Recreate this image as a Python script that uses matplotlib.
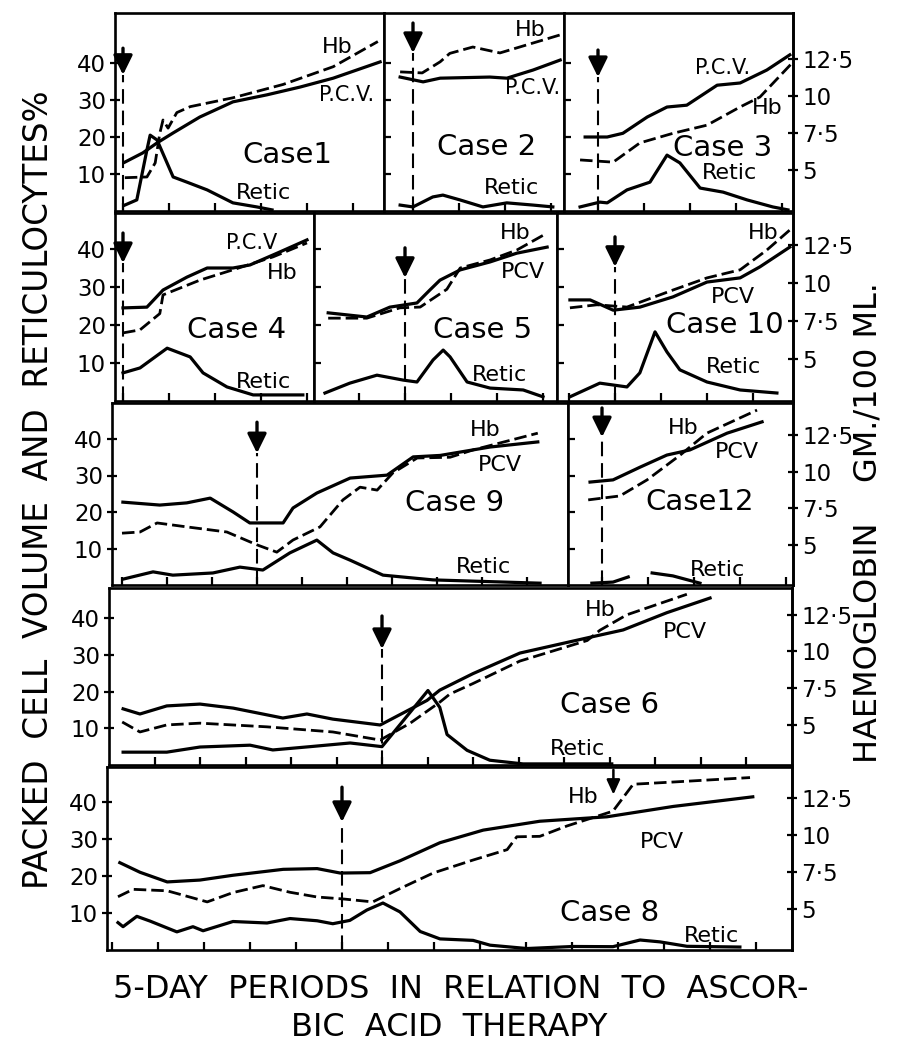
import matplotlib
matplotlib.use("Agg")
import math
import matplotlib.pyplot as plt
import numpy as np

plt.rcParams["font.family"] = ["DejaVu Sans"]

W, H = 901, 1044
nan = float("nan")

# x = 5-day periods from the start of ascorbic acid therapy (arrow = 0)
# PCV and retic in %, Hb in gm./100 ml.
CASE1_PCV = [(0.04, 13.2), (0.43, 15.7), (0.74, 18.4), (1.09, 21.1), (1.67, 25.4), (2.39, 29.5),
             (3.13, 31.4), (3.85, 33.5), (4.57, 35.9), (5.59, 40.3)]
CASE1_HB = [(0.04, 4.5), (0.52, 4.55), (0.7, 5.5), (0.8, 7.5), (0.87, 8.4), (0.98, 7.85), (1.17, 8.9),
            (1.46, 9.3), (2.39, 9.9), (3.48, 10.8), (4.57, 12.0), (5.54, 13.7)]
CASE1_RETIC = [(0.04, 1.6), (0.3, 3.0), (0.52, 16.5), (0.59, 20.5), (0.74, 19.2), (1.09, 9.2), (1.39, 7.8),
               (1.83, 5.7), (2.39, 2.2), (2.91, 1.1), (3.24, 0.3)]

CASE2_PCV = [(-0.28, 36.2), (0.22, 34.9), (0.59, 35.9), (1.67, 36.2), (2.04, 35.9), (2.61, 38.1), (3.2, 40.8)]
CASE2_HB = [(-0.28, 11.65), (0.2, 11.58), (0.59, 12.33), (0.8, 12.9), (1.3, 13.33), (1.89, 12.93),
            (2.48, 13.48), (3.2, 14.15)]
CASE2_RETIC = [(-0.28, 1.6), (0.0, 1.1), (0.43, 3.8), (0.65, 4.3), (1.02, 3.0), (1.52, 1.1), (2.04, 2.2),
               (2.61, 1.6), (3.04, 1.1)]

CASE3_PCV = [(-0.28, 20.0), (0.2, 20.0), (0.54, 21.0), (1.07, 25.4), (1.5, 28.1), (1.93, 28.6), (2.59, 34.0),
             (3.09, 34.6), (3.67, 38.1), (4.17, 42.2)]
CASE3_HB = [(-0.39, 5.7), (0.33, 5.55), (0.91, 6.85), (1.63, 7.5), (2.37, 8.05), (3.09, 9.28), (3.52, 9.95),
            (4.22, 12.25)]
CASE3_RETIC = [(-0.39, 1.1), (0.04, 2.4), (0.2, 2.2), (0.63, 5.7), (1.13, 7.8), (1.5, 15.1), (1.78, 13.0),
               (2.22, 6.2), (2.72, 5.1), (3.24, 3.0), (3.8, 1.1), (4.13, 0.3)]

CASE4_PCV = [(0.0, 24.5), (0.52, 24.7), (0.87, 29.2), (1.39, 32.6), (1.83, 35.0), (2.39, 35.0), (2.76, 35.8),
             (3.35, 38.9), (4.0, 42.4)]
CASE4_HB = [(0.0, 6.73), (0.37, 6.93), (0.8, 8.0), (0.87, 9.23), (1.67, 10.2), (2.39, 10.88), (3.26, 11.73),
            (4.0, 12.65)]
CASE4_RETIC = [(0.0, 7.4), (0.37, 8.7), (0.96, 13.9), (1.46, 11.6), (1.74, 7.4), (2.26, 3.7), (2.83, 1.6),
               (3.91, 1.6)]

CASE5_PCV = [(-1.67, 23.2), (-0.83, 22.1), (-0.33, 24.7), (0.26, 25.8), (0.54, 29.2), (0.76, 31.8),
             (1.2, 34.5), (1.85, 36.6), (2.43, 38.9), (3.09, 40.5)]
CASE5_HB = [(-1.67, 7.7), (-0.83, 7.7), (-0.11, 8.38), (0.33, 8.43), (0.91, 9.6), (1.2, 11.0), (1.85, 11.53),
            (2.43, 12.18), (3.09, 13.3)]
CASE5_RETIC = [(-1.74, 2.1), (-1.2, 4.7), (-0.61, 6.8), (-0.04, 5.5), (0.26, 5.0), (0.61, 10.8), (0.83, 13.4),
               (0.98, 11.6), (1.35, 5.0), (1.85, 3.4), (2.57, 2.9), (3.0, 1.1)]

CASE10_PCV = [(-0.98, 26.6), (-0.54, 26.6), (-0.04, 23.9), (0.54, 24.7), (1.26, 27.4), (2.0, 31.3),
              (2.72, 32.4), (3.15, 35.3), (3.8, 40.5)]
CASE10_HB = [(-0.98, 8.38), (-0.39, 8.58), (0.26, 8.43), (1.26, 9.55), (2.0, 10.35), (2.72, 10.88),
             (3.3, 12.18), (3.8, 13.5)]
CASE10_RETIC = [(-0.98, 1.1), (-0.33, 4.7), (0.26, 3.7), (0.54, 7.4), (0.87, 18.2), (1.13, 12.9), (1.41, 8.2),
                (2.0, 5.0), (2.72, 2.9), (3.52, 2.1)]

CASE9_PCV = [(-2.98, 22.7), (-2.16, 21.9), (-1.56, 22.5), (-1.04, 23.8), (-0.53, 20.0), (-0.16, 17.0),
             (0.58, 17.0), (0.8, 21.1), (1.33, 25.2), (2.07, 29.3), (2.89, 30.1), (3.47, 35.1), (4.07, 35.5),
             (5.18, 37.8), (6.24, 39.2)]
CASE9_HB = [(-3.0, 5.8), (-2.6, 5.88), (-2.22, 6.5), (-1.56, 6.23), (-0.67, 5.88), (0.0, 5.0), (0.44, 4.5),
            (0.8, 5.33), (1.4, 6.23), (1.91, 8.08), (2.29, 8.95), (2.67, 8.75), (3.02, 9.93), (3.56, 10.95),
            (4.29, 11.0), (4.8, 11.5), (6.24, 12.65)]
CASE9_RETIC = [(-2.98, 1.6), (-2.31, 3.6), (-1.87, 2.7), (-0.98, 3.3), (-0.38, 4.9), (0.13, 4.1), (0.73, 8.8),
               (1.33, 12.3), (1.69, 8.8), (2.07, 6.8), (2.8, 2.7), (3.91, 1.4), (6.29, 0.5)]

CASE12_PCV = [(-0.26, 28.2), (0.24, 28.8), (0.83, 32.3), (1.41, 35.6), (1.91, 37.0), (2.72, 41.6), (3.48, 44.7)]
CASE12_HB = [(-0.3, 8.08), (0.39, 8.35), (0.98, 9.45), (1.7, 11.15), (2.28, 12.65), (3.37, 14.23)]
CASE12_RETIC = [(-0.22, 0.5), (0.24, 0.8), (0.57, 2.2), (nan, nan), (1.09, 3.3), (1.54, 2.5), (2.13, 0.5)]

CASE6_PCV = [(-5.69, 15.3), (-5.32, 13.9), (-4.73, 16.1), (-4.0, 16.6), (-3.27, 15.5), (-2.18, 12.8),
             (-1.65, 13.9), (-1.08, 12.5), (-0.04, 10.9), (0.99, 17.6), (1.27, 20.4), (2.0, 24.9), (3.03, 30.5),
             (4.57, 34.8), (5.3, 36.8), (6.26, 41.5), (7.21, 45.5)]
CASE6_HB = [(-5.71, 5.18), (-5.32, 4.5), (-4.73, 4.98), (-4.0, 5.1), (-2.53, 4.85), (-1.08, 4.5), (-0.04, 3.95),
            (0.62, 5.1), (1.27, 6.53), (1.49, 7.08), (2.0, 7.8), (3.03, 9.33), (4.51, 10.73), (4.79, 11.43),
            (5.38, 12.48), (6.7, 13.88)]
CASE6_RETIC = [(-5.69, 3.5), (-4.73, 3.5), (-4.0, 4.9), (-2.9, 5.4), (-2.4, 4.1), (-1.58, 5.0), (-0.7, 6.0),
               (0.0, 5.0), (1.01, 20.3), (1.27, 15.7), (1.43, 8.3), (1.87, 4.0), (2.37, 1.3), (3.1, 0.3),
               (5.05, 0.3)]

CASE8_PCV = [(-4.83, 23.6), (-4.39, 21.0), (-3.8, 18.4), (-3.09, 18.9), (-2.37, 20.2), (-1.28, 21.8),
             (-0.54, 22.0), (-0.04, 20.8), (0.61, 20.9), (1.26, 24.1), (2.13, 29.0), (3.07, 32.4), (4.3, 34.8),
             (5.76, 36.0), (7.2, 38.8), (8.93, 41.4)]
CASE8_HB = [(-4.87, 5.85), (-4.54, 6.35), (-3.8, 6.25), (-2.93, 5.5), (-2.37, 6.13), (-1.72, 6.6), (-1.13, 6.15),
            (-0.54, 5.83), (0.02, 5.7), (0.67, 5.5), (1.26, 6.4), (1.98, 7.45), (2.85, 8.33), (3.59, 9.03),
            (3.8, 9.9), (4.3, 9.93), (4.89, 10.63), (5.89, 11.63), (6.33, 13.45), (7.2, 13.6), (8.87, 13.9)]
CASE8_RETIC = [(-4.87, 7.4), (-4.76, 6.3), (-4.46, 9.1), (-4.17, 7.8), (-3.59, 4.9), (-3.24, 6.3), (-3.02, 5.2),
               (-2.37, 7.7), (-1.63, 7.3), (-1.13, 8.5), (-0.54, 7.9), (-0.2, 7.1), (0.17, 8.0), (0.54, 10.8),
               (0.89, 12.7), (1.26, 10.3), (1.7, 5.0), (2.13, 3.0), (2.85, 2.6), (3.22, 1.3), (4.02, 0.4),
               (5.02, 0.95), (5.89, 0.9), (6.48, 2.7), (6.91, 2.2), (7.5, 1.0), (8.65, 0.8)]

LEFT_TICKS = [10, 20, 30, 40]
HB_TICKS = [5, 7.5, 10, 12.5]
HB_TICK_LABELS = ["5", "7·5", "10", "12·5"]


def hb_to_left(g):
    return 4 * np.asarray(g, dtype=float) - 9


def left_to_hb(y):
    return (np.asarray(y, dtype=float) + 9) / 4


# row layout in pixels: (top, zero line, px per unit)
ROWS = {1: (13, 211, 3.7), 2: (213, 401, 3.8), 3: (403, 585, 3.65), 4: (588, 765, 3.67), 5: (767, 950, 3.7)}

fig = plt.figure(figsize=(W / 100, H / 100), dpi=100)
fig.patch.set_facecolor("white")


def panel(x0, x1, row, arrow_px, ppp, arrow, pcv, hb, retic, first=False, last=False):
    top, zero, ppu = ROWS[row]
    ax = fig.add_axes([x0 / W, 1 - zero / H, (x1 - x0) / W, (zero - top) / H])
    lo, hi = (x0 - arrow_px) / ppp, (x1 - arrow_px) / ppp
    ax.set_xlim(lo, hi)
    ax.set_ylim(0, (zero - top) / ppu)
    ax.set_xticks(np.arange(math.ceil(lo + 0.05), math.floor(hi - 0.05) + 1))
    ax.tick_params(axis="x", direction="in", length=6, width=1.6, labelbottom=False)
    ax.set_yticks(LEFT_TICKS)
    if first:
        ax.tick_params(axis="y", direction="inout", length=7, width=1.6, labelsize=16.5, pad=3)
    else:
        ax.tick_params(axis="y", direction="in", length=5, width=1.6, labelleft=False)
    for s in ax.spines.values():
        s.set_linewidth(1.9)
    if last:
        sec = ax.secondary_yaxis("right", functions=(left_to_hb, hb_to_left))
        sec.set_yticks(HB_TICKS)
        sec.set_yticklabels(HB_TICK_LABELS)
        sec.tick_params(direction="inout", length=7, width=1.6, labelsize=16.5, pad=3)
        sec.spines["right"].set_linewidth(1.9)

    x, y = zip(*pcv)
    ax.plot(x, y, color="k", lw=2.3, solid_joinstyle="round", clip_on=False)
    x, g = zip(*hb)
    ax.plot(x, hb_to_left(g), color="k", lw=2.0, ls=(0, (4.5, 1.8)), clip_on=False)
    x, y = zip(*retic)
    ax.plot(x, y, color="k", lw=2.3, solid_joinstyle="round", clip_on=False)

    a_top, a_tip = arrow
    ax.annotate("", xy=(0, a_tip), xytext=(0, a_top),
                arrowprops=dict(arrowstyle="-|>,head_length=0.65,head_width=0.32", color="k",
                                lw=2.4, mutation_scale=18, shrinkA=0, shrinkB=0))
    ax.plot([0, 0], [0, a_tip], color="k", lw=1.5, ls=(0, (7, 3.3)))
    return ax


panel(115, 384, 1, 123, 46, (44, 36.8), CASE1_PCV, CASE1_HB, CASE1_RETIC, first=True)
panel(384, 564, 1, 413, 46, (50.8, 42.7), CASE2_PCV, CASE2_HB, CASE2_RETIC)
panel(564, 793, 1, 598, 46, (43.5, 36.2), CASE3_PCV, CASE3_HB, CASE3_RETIC, last=True)
panel(115, 314, 2, 123, 46, (44.2, 36.3), CASE4_PCV, CASE4_HB, CASE4_RETIC, first=True)
panel(314, 557, 2, 405, 46, (40.3, 32.4), CASE5_PCV, CASE5_HB, CASE5_RETIC)
panel(557, 793, 2, 615, 46, (43.2, 35.3), CASE10_PCV, CASE10_HB, CASE10_RETIC, last=True)
panel(112, 568, 3, 257, 45, (44.6, 36.1), CASE9_PCV, CASE9_HB, CASE9_RETIC, first=True)
panel(568, 793, 3, 602, 46, (48.5, 40.5), CASE12_PCV, CASE12_HB, CASE12_RETIC, last=True)
panel(109, 792, 4, 382, 45.5, (40.6, 31.6), CASE6_PCV, CASE6_HB, CASE6_RETIC, first=True, last=True)
ax8 = panel(107, 792, 5, 342, 46, (44, 34.6), CASE8_PCV, CASE8_HB, CASE8_RETIC, first=True, last=True)
# second, small arrow on the Hb curve of case 8
ax8.annotate("", xy=(5.9, 42.0), xytext=(5.9, 48.7),
             arrowprops=dict(arrowstyle="-|>,head_length=0.55,head_width=0.25", color="k",
                             lw=1.8, mutation_scale=16, shrinkA=0, shrinkB=0))


def ftext(px, py, s, size, **kw):
    fig.text(px / W, 1 - py / H, s, fontsize=size, ha="center", va="center", **kw)


LABELS = [
    (337, 47, "Hb", 16), (347, 95, "P.C.V.", 15), (287, 155, "Case1", 21), (263, 193, "Retic", 16),
    (530, 30, "Hb", 16), (533, 88, "P.C.V.", 15), (487, 147, "Case 2", 21), (512, 188, "Retic", 16),
    (723, 68, "P.C.V.", 15), (767, 108, "Hb", 16), (723, 148, "Case 3", 21), (730, 173, "Retic", 16),
    (252, 243, "P.C.V", 15), (282, 273, "Hb", 16), (237, 330, "Case 4", 21), (263, 382, "Retic", 16),
    (515, 233, "Hb", 16), (523, 272, "PCV", 16), (483, 330, "Case 5", 21), (500, 375, "Retic", 16),
    (763, 233, "Hb", 16), (733, 297, "PCV", 16), (725, 325, "Case 10", 21), (733, 367, "Retic", 16),
    (485, 430, "Hb", 16), (500, 465, "PCV", 16), (455, 503, "Case 9", 21), (483, 567, "Retic", 16),
    (683, 428, "Hb", 16), (737, 452, "PCV", 16), (700, 502, "Case12", 21), (718, 570, "Retic", 16),
    (600, 610, "Hb", 16), (685, 632, "PCV", 16), (610, 705, "Case 6", 21), (577, 749, "Retic", 16),
    (583, 797, "Hb", 16), (662, 842, "PCV", 16), (610, 913, "Case 8", 21), (712, 936, "Retic", 16),
]
for px, py, s, size in LABELS:
    ftext(px, py, s, size)

ftext(39, 490, "PACKED  CELL  VOLUME  AND  RETICULOCYTES%", 23.5, rotation=90)
ftext(868, 523, "HAEMOGLOBIN    GM./100 ML.", 23, rotation=90)
ftext(461, 990, "5-DAY  PERIODS  IN  RELATION  TO  ASCOR-", 23)
ftext(449, 1028, "BIC  ACID  THERAPY", 23)

fig.savefig("out.png", dpi=100, facecolor="white")
